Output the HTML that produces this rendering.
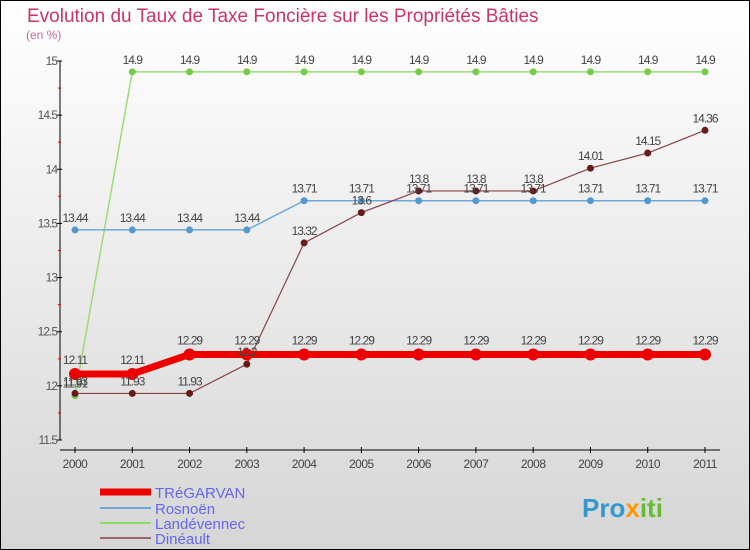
<!DOCTYPE html>
<html><head><meta charset="utf-8"><style>
body{margin:0}
#c{width:750px;height:550px;position:relative;overflow:hidden;font-family:"Liberation Sans",sans-serif}
</style></head><body>
<div id="c">
<svg id="s" width="750" height="550" xmlns="http://www.w3.org/2000/svg">
<defs><linearGradient id="bg" x1="0" y1="0" x2="0" y2="1"><stop offset="0" stop-color="#ffffff"/><stop offset="1" stop-color="#d6d6d6"/></linearGradient></defs>
<rect x="0.5" y="0.5" width="749" height="549" fill="url(#bg)" stroke="#000"/>
<text x="27" y="22" font-size="19" fill="#cc3366">Evolution du Taux de Taxe Foncière sur les Propriétés Bâties</text>
<text x="26" y="39" font-size="12" fill="#cc6699">(en %)</text>
<g id="axes"></g><g id="series"></g><g id="labels"></g>
<g>
<line x1="100" y1="492" x2="151" y2="492" stroke="#ee0000" stroke-width="7"/>
<text x="155" y="498" font-size="15" fill="#6666ee">TRéGARVAN</text>
<line x1="100" y1="508" x2="151" y2="508" stroke="#6fa8d8" stroke-width="2"/>
<text x="155" y="514" font-size="15" fill="#6666ee">Rosnoën</text>
<line x1="100" y1="523" x2="151" y2="523" stroke="#88dd66" stroke-width="2"/>
<text x="155" y="529" font-size="15" fill="#6666ee">Landévennec</text>
<line x1="100" y1="538" x2="151" y2="538" stroke="#996666" stroke-width="2"/>
<text x="155" y="544" font-size="15" fill="#6666ee">Dinéault</text>
</g>
<text x="582" y="517" font-size="26" font-weight="bold" fill="#3399cc">Pro<tspan fill="#ff9900">x</tspan><tspan fill="#66bb33">iti</tspan></text>
</svg>
</div>
<script>
const years=[2000,2001,2002,2003,2004,2005,2006,2007,2008,2009,2010,2011];
const yTicks=[11.5,12,12.5,13,13.5,14,14.5,15];
const tregarvan=[12.11,12.11,12.29,12.29,12.29,12.29,12.29,12.29,12.29,12.29,12.29,12.29];
const rosnoen=[13.44,13.44,13.44,13.44,13.71,13.71,13.71,13.71,13.71,13.71,13.71,13.71];
const landevennec=[11.91,14.9,14.9,14.9,14.9,14.9,14.9,14.9,14.9,14.9,14.9,14.9];
const dineault=[11.93,11.93,11.93,12.2,13.32,13.6,13.8,13.8,13.8,14.01,14.15,14.36];
const NS="http://www.w3.org/2000/svg";
const X=i=>75+i*(630/(years.length-1));
const Y=v=>61+(15-v)*(379/3.5);
function mk(t,a,p){const e=document.createElementNS(NS,t);for(const k in a)e.setAttribute(k,a[k]);p.appendChild(e);return e;}
const ax=document.getElementById('axes');
const yl=mk('line',{x1:60,y1:Y(15),x2:60,y2:Y(11.5),stroke:'#000'},ax);


const xl=mk('line',{x1:60,y1:450,x2:720,y2:450,stroke:'#000'},ax);


yTicks.forEach(v=>{
 mk('line',{x1:57,y1:Y(v),x2:62,y2:Y(v),stroke:'#000'},ax);
 if(v<15)mk('line',{x1:58,y1:Y(v+0.25),x2:61,y2:Y(v+0.25),stroke:'#e00'},ax);
 const t=mk('text',{x:57,y:Y(v)+4,'font-size':12,fill:'#555','text-anchor':'end','letter-spacing':'-1'},ax);
 t.textContent=String(v);
 
 
});
years.forEach((y,i)=>{
 mk('line',{x1:X(i),y1:447,x2:X(i),y2:453,stroke:'#000'},ax);
 const t=mk('text',{x:X(i),y:468,'font-size':12,fill:'#444','text-anchor':'middle','letter-spacing':'-0.5'},ax);
 t.textContent=String(y);
 
 
});
const sg=document.getElementById('series'),lg=document.getElementById('labels');
function draw(vals,color,w,r,name,fill,lblDy){
 const pts=vals.map((v,i)=>X(i)+','+Y(v)).join(' ');
 const pl=mk('polyline',{points:pts,fill:'none',stroke:color,'stroke-width':w},sg);
 
 
 vals.forEach((v,i)=>{
  const c=mk('circle',{cx:X(i),cy:Y(v),r:r,fill:fill},sg);
  
  
  const t=mk('text',{x:X(i),y:Y(v)+lblDy,'font-size':12,fill:'#444','text-anchor':'middle','letter-spacing':'-1'},lg);
  t.textContent=String(v);
  
  
 });
}
draw(landevennec,'#99dd77',1.5,3.5,'landevennec','#77cc44',-8);
draw(rosnoen,'#6fa8d8',1.5,3.5,'rosnoen','#5599cc',-8);
draw(dineault,'#884444',1.2,3.5,'dineault','#661a1a',-8);
draw(tregarvan,'#ee0000',7,6,'tregarvan','#ee0000',-10);
</script>
</body></html>
